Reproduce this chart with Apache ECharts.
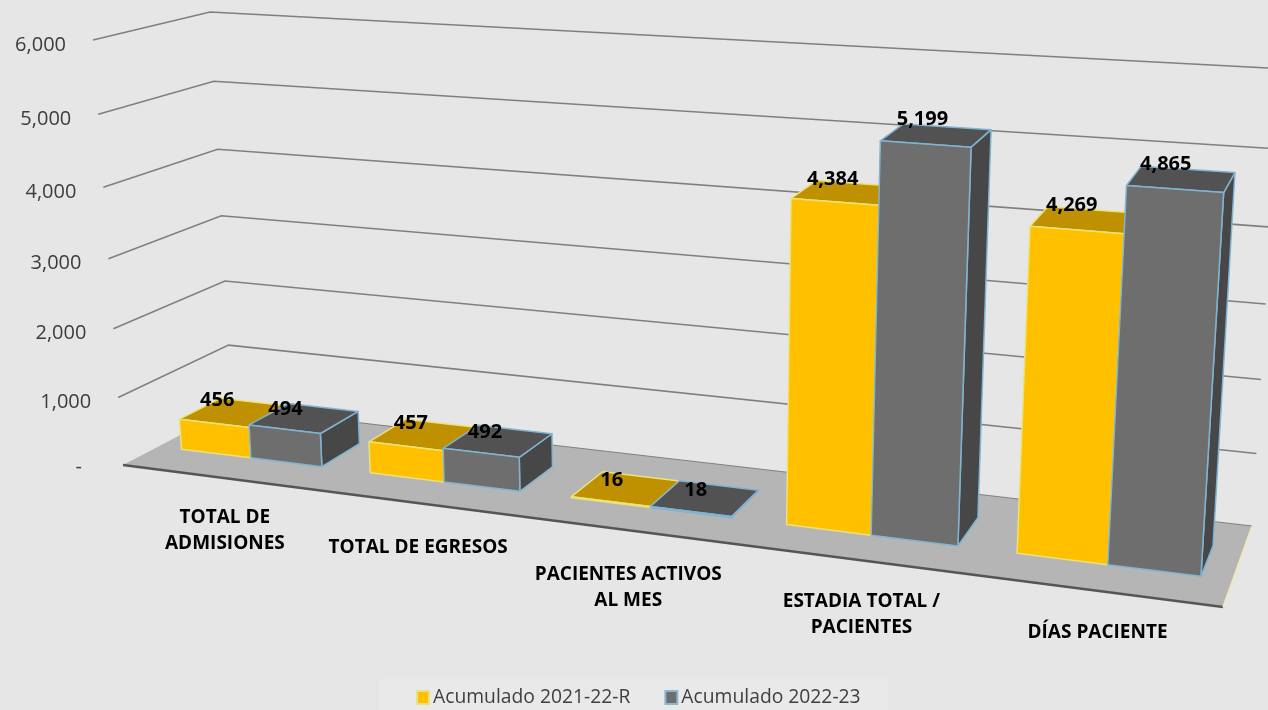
<!DOCTYPE html>
<html>
<head>
<meta charset="utf-8">
<style>
  html, body { margin: 0; padding: 0; background: #e6e6e6; }
  #chart { width: 1268px; height: 710px; }
</style>
<script src="https://cdn.jsdelivr.net/npm/echarts@6/dist/echarts.min.js"></script>
</head>
<body>
<div id="chart"></div>
<script>
const categories = ['TOTAL DE\nADMISIONES', 'TOTAL DE EGRESOS', 'PACIENTES ACTIVOS\nAL MES', 'ESTADIA TOTAL /\nPACIENTES', 'DÍAS PACIENTE'];
const seriesNames = ['Acumulado 2021-22-R', 'Acumulado 2022-23'];
const values2122 = [456, 457, 16, 4384, 4269];
const values2223 = [494, 492, 18, 5199, 4865];
const yTicks = [0, 1000, 2000, 3000, 4000, 5000, 6000];

// corners of the chart box on screen: [front-left, front-right, back-right, back-left]
const FLOOR = [[123, 465], [1223, 607], [1252, 526], [232, 408]];
const ROOF = [[93, 40], [1254, 115], [1280, 68.6], [210, 12]];
const VERTICAL_K = 0.06;
const U_WARP = 0.018;
const BAR_FRONT = 0.31, BAR_BACK = 0.69, GROUP_WIDTH = 0.75;

const FONT = '"Open Sans"';
// hand placed text, offsets in px from the projected anchor
const labelShift = [[8, 53], [4, 45], [3, 58], [10, 56], [3, 42]];
const valueShift = [
  [[3, 1], [5, 1], [1, 3], [-2, 1], [-5, -1]],
  [[1, 4], [4, 4], [5, 3], [-3, -1], [-9, -1]]
];

function homography(q) {
  const [p0, p1, p2, p3] = q;
  const dx1 = p1[0] - p2[0], dx2 = p3[0] - p2[0], sx = p0[0] - p1[0] + p2[0] - p3[0];
  const dy1 = p1[1] - p2[1], dy2 = p3[1] - p2[1], sy = p0[1] - p1[1] + p2[1] - p3[1];
  const det = dx1 * dy2 - dx2 * dy1;
  const g = (sx * dy2 - dx2 * sy) / det, h = (dx1 * sy - sx * dy1) / det;
  return (u, w) => {
    const d = g * u + h * w + 1;
    return [
      ((p1[0] - p0[0] + g * p1[0]) * u + (p3[0] - p0[0] + h * p3[0]) * w + p0[0]) / d,
      ((p1[1] - p0[1] + g * p1[1]) * u + (p3[1] - p0[1] + h * p3[1]) * w + p0[1]) / d
    ];
  };
}
const floorAt = homography(FLOOR);
const lifts = ROOF.map((p, i) => [p[0] - FLOOR[i][0], p[1] - FLOOR[i][1]]);

// data position (x on the category scale, value) plus a depth -> pixel
function project(api, cs, x, value, depth) {
  const pt = api.coord([x, value]);
  let u = (pt[0] - cs.x) / cs.width;
  u += U_WARP * u * (1 - u);
  const v = (cs.y + cs.height - pt[1]) / cs.height;
  const f = v / (1 + VERTICAL_K * (1 - v));
  const a = floorAt(u, depth);
  // the lift to the roof runs evenly over the screen, so it shares the floor's perspective
  const left = floorAt(0, depth), right = floorAt(1, depth);
  const near = floorAt(u, 0), far = floorAt(u, 1);
  const s = (a[0] - left[0]) / (right[0] - left[0]);
  const t = (a[1] - near[1]) / (far[1] - near[1]);
  const lift = k => (lifts[0][k] * (1 - s) + lifts[1][k] * s) * (1 - t) + (lifts[3][k] * (1 - s) + lifts[2][k] * s) * t;
  return [a[0] + lift(0) * f, a[1] + lift(1) * f];
}

function renderWall(params, api) {
  const cs = params.coordSys;
  const value = api.value(0);
  const front = project(api, cs, 0, value, 0);
  const back = project(api, cs, 0, value, 1);
  const right = project(api, cs, 5, value, 1);
  const children = [];
  if (value === 0) {
    const fr = project(api, cs, 5, 0, 0);
    children.push(
      { type: 'polygon', shape: { points: [front, fr, right, back] }, style: { fill: '#b5b5b5' } },
      { type: 'line', shape: { x1: back[0], y1: back[1], x2: right[0], y2: right[1] }, style: { stroke: '#808080', lineWidth: 1 } },
      { type: 'line', shape: { x1: front[0], y1: front[1], x2: fr[0], y2: fr[1] }, style: { stroke: '#555555', lineWidth: 2.5 } },
      { type: 'line', shape: { x1: fr[0], y1: fr[1], x2: right[0], y2: right[1] }, style: { stroke: '#f3e6b8', lineWidth: 1.5 } }
    );
  } else {
    children.push({
      type: 'polyline',
      shape: { points: [front, back, right] },
      style: { fill: null, stroke: '#7f7f7f', lineWidth: 1.5 }
    });
  }
  children.push({
    type: 'text',
    x: front[0] - (value === 0 ? 41 : 27),
    y: front[1] + (value === 0 ? 2 : 5),
    style: {
      text: value === 0 ? '-' : value.toLocaleString('en-US'),
      font: '20px ' + FONT,
      fill: '#3c3c3c',
      align: 'right',
      verticalAlign: 'middle'
    }
  });
  return { type: 'group', children };
}

function barRenderer(serieIdx, faces) {
  return function (params, api) {
    const cs = params.coordSys;
    const cat = api.value(0), value = api.value(1);
    const half = GROUP_WIDTH / 2;
    const x0 = cat + 0.5 - half + serieIdx * half, x1 = x0 + half;
    const P = (x, val, d) => project(api, cs, x, val, d);
    const style = fill => ({ fill, stroke: faces.edge, lineWidth: 1.5, lineJoin: 'round' });
    return {
      type: 'group',
      children: [
        { type: 'polygon', shape: { points: [P(x1, 0, BAR_FRONT), P(x1, 0, BAR_BACK), P(x1, value, BAR_BACK), P(x1, value, BAR_FRONT)] }, style: style(faces.side) },
        { type: 'polygon', shape: { points: [P(x0, value, BAR_FRONT), P(x1, value, BAR_FRONT), P(x1, value, BAR_BACK), P(x0, value, BAR_BACK)] }, style: style(faces.top) },
        { type: 'polygon', shape: { points: [P(x0, 0, BAR_FRONT), P(x1, 0, BAR_FRONT), P(x1, value, BAR_FRONT), P(x0, value, BAR_FRONT)] }, style: style(faces.front) }
      ]
    };
  };
}

function renderValueLabel(params, api) {
  const cs = params.coordSys;
  const cat = api.value(0), value = api.value(1), serieIdx = api.value(2);
  const half = GROUP_WIDTH / 2;
  const x = cat + 0.5 - half + serieIdx * half + half / 2;
  const p = project(api, cs, x, value, BAR_FRONT);
  const shift = valueShift[serieIdx][cat];
  return {
    type: 'text',
    x: p[0] + shift[0],
    y: p[1] - 24 + shift[1],
    style: {
      text: value.toLocaleString('en-US'),
      font: 'bold 20px ' + FONT,
      fill: '#000000',
      align: 'center',
      verticalAlign: 'middle'
    }
  };
}

function renderCategory(params, api) {
  const cs = params.coordSys;
  const i = api.value(0);
  const p = project(api, cs, i + 0.5, 0, 0);
  return {
    type: 'text',
    x: p[0] + labelShift[i][0],
    y: p[1] + labelShift[i][1],
    style: {
      text: categories[i],
      font: 'bold 19px ' + FONT,
      lineHeight: 26,
      fill: '#000000',
      align: 'center',
      verticalAlign: 'middle'
    }
  };
}

const valueLabels = [];
[values2122, values2223].forEach((list, s) => list.forEach((v, i) => valueLabels.push([i, v, s])));

const myChart = echarts.init(document.getElementById('chart'));
myChart.setOption({
  animation: false,
  backgroundColor: '#e6e6e6',
  legend: {
    data: seriesNames,
    bottom: 0,
    left: 379,
    padding: [9, 28, 3, 37],
    backgroundColor: '#e9e9e9',
    icon: 'rect',
    itemWidth: 12,
    itemHeight: 13,
    itemGap: 34,
    textStyle: { color: '#404040', fontFamily: FONT, fontSize: 19.3, padding: [5, 0, 0, -1] }
  },
  grid: { left: 0, right: 0, top: 0, bottom: 0 },
  xAxis: { type: 'value', min: 0, max: 5, show: false },
  yAxis: { type: 'value', min: 0, max: 6000, show: false },
  series: [
    {
      name: 'wall',
      type: 'custom',
      clip: false,
      silent: true,
      z: 1,
      renderItem: renderWall,
      encode: { y: 0 },
      data: yTicks.map(v => [v])
    },
    {
      name: seriesNames[0],
      type: 'custom',
      clip: false,
      z: 2,
      itemStyle: { color: '#ffc000', borderColor: '#e6e28a', borderWidth: 1.5 },
      renderItem: barRenderer(0, { front: '#ffc000', top: '#bf9000', side: '#bf9000', edge: '#ece27a' }),
      data: values2122.map((v, i) => [i, v])
    },
    {
      name: seriesNames[1],
      type: 'custom',
      clip: false,
      z: 3,
      itemStyle: { color: '#6e6e6e', borderColor: '#8ab8d4', borderWidth: 1.5 },
      renderItem: barRenderer(1, { front: '#6e6e6e', top: '#525252', side: '#474747', edge: '#80b4d2' }),
      data: values2223.map((v, i) => [i, v])
    },
    {
      name: 'labels',
      type: 'custom',
      clip: false,
      silent: true,
      z: 4,
      renderItem: renderValueLabel,
      data: valueLabels
    },
    {
      name: 'categories',
      type: 'custom',
      clip: false,
      silent: true,
      z: 4,
      renderItem: renderCategory,
      data: categories.map((c, i) => [i])
    }
  ]
});
</script>
</body>
</html>
